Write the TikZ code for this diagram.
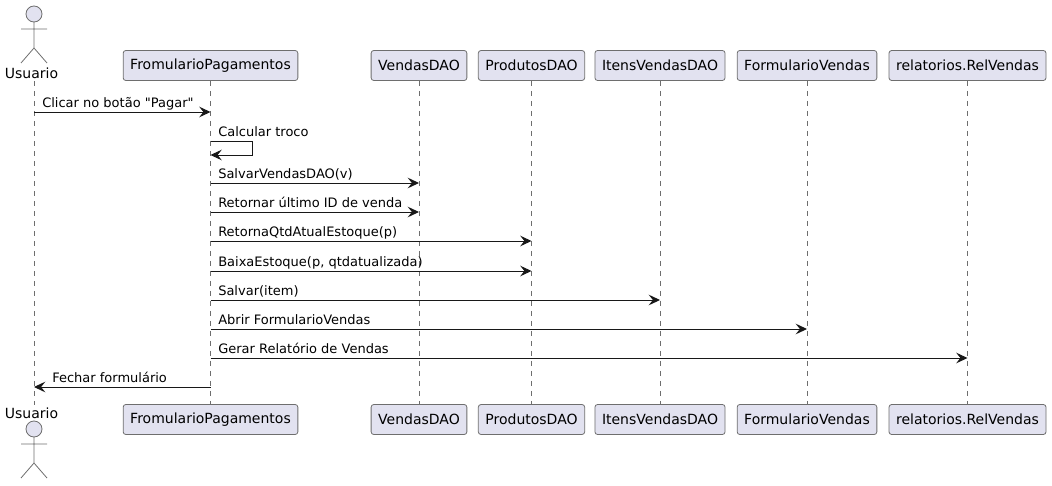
\documentclass[tikz,border=0pt]{standalone}
\usepackage{fontspec}
\setmainfont{DejaVu Sans}
\usetikzlibrary{arrows.meta}
\definecolor{partfill}{HTML}{E2E2F0}
\definecolor{partline}{HTML}{181818}
\definecolor{thinline}{HTML}{6E6E6E}
\tikzset{
  part/.style={draw=thinline, fill=partfill, line width=0.6pt, rounded corners=2pt,
    minimum height=22.5pt, inner xsep=5.3pt, inner ysep=0pt, font=\fontsize{10.5pt}{12pt}\selectfont},
  actorname/.style={inner sep=0pt, outer sep=2pt, font=\fontsize{10.5pt}{12pt}\selectfont},
  lifeline/.style={draw=thinline, line width=0.5pt, dash pattern=on 3.75pt off 3.75pt},
  msg/.style={draw=partline, line width=0.75pt, -{Stealth[length=8.5pt,width=8pt,inset=3.2pt]}},
  msgtext/.style={anchor=base west, inner sep=0pt, font=\fontsize{9.75pt}{12pt}\selectfont},
  actorman/.pic={
    \draw[draw=thinline, line width=0.6pt, fill=partfill] (0,0) circle [radius=6pt];
    \draw[draw=thinline, line width=0.6pt] (0,8) -- (0,34) (-13,15) -- (13,15) (-13,49) -- (0,34) -- (13,49);
  }
}
\begin{document}
\begin{tikzpicture}[x=0.75pt, y=-0.75pt]
  \useasboundingbox (0,0) rectangle (1052,485);

  % participants, top row
  \pic at (34,14) {actorman};
  \node[actorname] (usuTop) at (31.5,73) {Usuario};
  \node[part] (pagTop) at (210.5,65.5) {FromularioPagamentos};
  \node[part] (venTop) at (419,65.5) {VendasDAO};
  \node[part] (proTop) at (531.5,65.5) {ProdutosDAO};
  \node[part] (iteTop) at (660,65.5) {ItensVendasDAO};
  \node[part] (forTop) at (807,65.5) {FormularioVendas};
  \node[part] (relTop) at (967.5,65.5) {relatorios.RelVendas};

  % participants, bottom row
  \pic at (34,429) {actorman};
  \node[actorname] (usuBot) at (31.5,413) {Usuario};
  \node[part] (pagBot) at (210.5,419.5) {FromularioPagamentos};
  \node[part] (venBot) at (419,419.5) {VendasDAO};
  \node[part] (proBot) at (531.5,419.5) {ProdutosDAO};
  \node[part] (iteBot) at (660,419.5) {ItensVendasDAO};
  \node[part] (forBot) at (807,419.5) {FormularioVendas};
  \node[part] (relBot) at (967.5,419.5) {relatorios.RelVendas};

  % lifelines
  \coordinate (usuLine) at (34,0);
  \draw[lifeline] (usuLine |- usuTop.south) -- (usuLine |- usuBot.north);
  \draw[lifeline] (pagTop.south) -- (pagBot.north);
  \draw[lifeline] (venTop.south) -- (venBot.north);
  \draw[lifeline] (proTop.south) -- (proBot.north);
  \draw[lifeline] (iteTop.south) -- (iteBot.north);
  \draw[lifeline] (forTop.south) -- (forBot.north);
  \draw[lifeline] (relTop.south) -- (relBot.north);

  % messages
  \draw[msg] (usuLine |- 0,112) -- (pagTop |- 0,112);
  \node[msgtext] (m1) at (42,107) {Clicar no botão \textquotedbl Pagar\textquotedbl};
  \draw[msg] (pagTop |- 0,141) -- ++(42,0) -- ++(0,14) -- (pagTop |- 0,155);
  \node[msgtext] (m2) at (218,136) {Calcular troco};
  \draw[msg] (pagTop |- 0,183) -- (venTop |- 0,183);
  \node[msgtext] (m3) at (218,178) {SalvarVendasDAO(v)};
  \draw[msg] (pagTop |- 0,212) -- (venTop |- 0,212);
  \node[msgtext] (m4) at (218,207) {Retornar último ID de venda};
  \draw[msg] (pagTop |- 0,241) -- (proTop |- 0,241);
  \node[msgtext] (m5) at (218,236) {RetornaQtdAtualEstoque(p)};
  \draw[msg] (pagTop |- 0,271) -- (proTop |- 0,271);
  \node[msgtext] (m6) at (218,266) {BaixaEstoque(p, qtdatualizada)};
  \draw[msg] (pagTop |- 0,300) -- (iteTop |- 0,300);
  \node[msgtext] (m7) at (218,295) {Salvar(item)};
  \draw[msg] (pagTop |- 0,329) -- (forTop |- 0,329);
  \node[msgtext] (m8) at (218,324) {Abrir FormularioVendas};
  \draw[msg] (pagTop |- 0,358) -- (relTop |- 0,358);
  \node[msgtext] (m9) at (218,353) {Gerar Relatório de Vendas};
  \draw[msg] (pagTop |- 0,387) -- (usuLine |- 0,387);
  \node[msgtext] (m10) at (52,382) {Fechar formulário};
\end{tikzpicture}
\end{document}
